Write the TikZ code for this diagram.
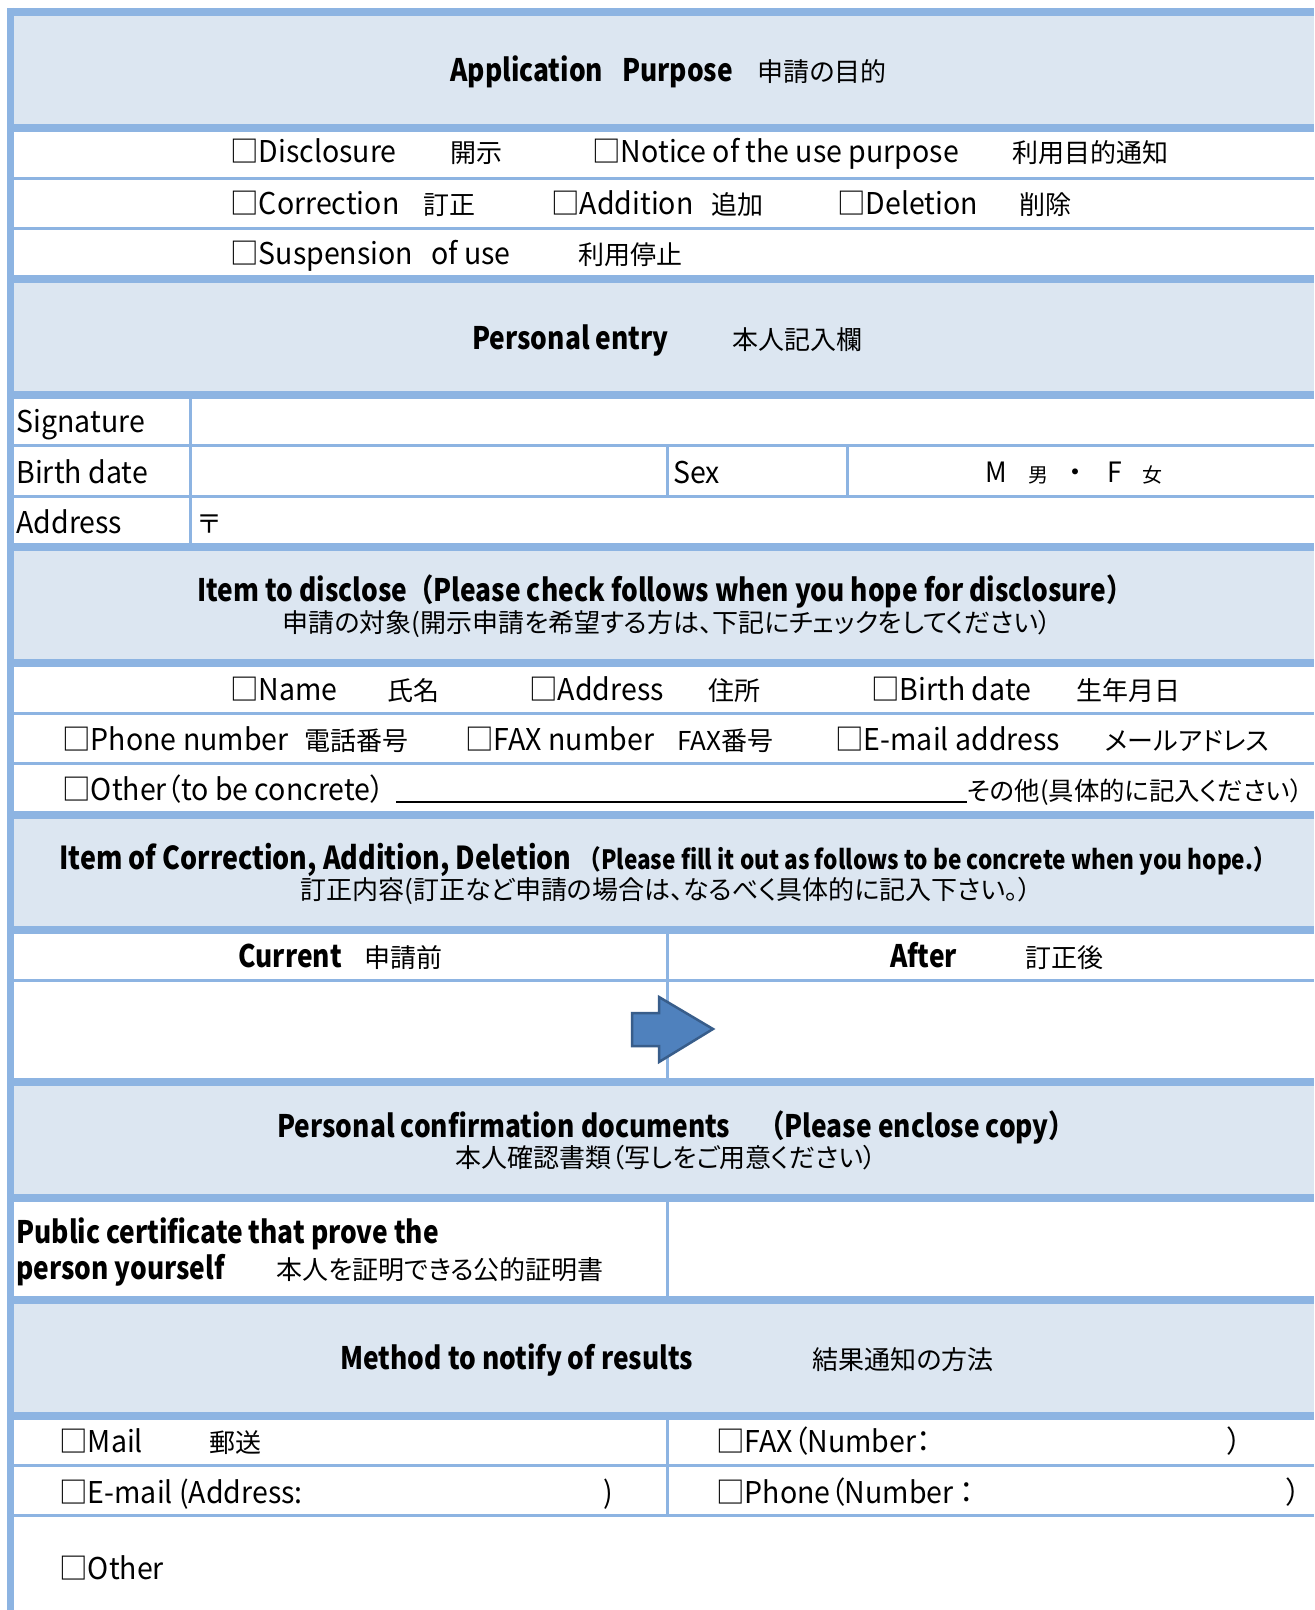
\documentclass[tikz,border=0pt]{standalone}
\usepackage{fontspec}
\setmainfont{Noto Sans CJK JP}[RawFeature=+palt]
\newfontfamily\latinfont{Noto Sans CJK JP}[FakeStretch=0.95, RawFeature=+palt]
\newfontfamily\headfont{Noto Sans CJK JP}[FakeStretch=0.85]
\usepackage{tikz}
\definecolor{bandfill}{RGB}{220,230,241}
\definecolor{formline}{RGB}{141,180,226}
\definecolor{arrowfill}{RGB}{79,129,189}
\definecolor{arrowdraw}{RGB}{56,93,138}
\tikzstyle{band}=[fill=bandfill]
\tikzstyle{bigline}=[draw=formline, line width=4pt]
\tikzstyle{smallline}=[draw=formline, line width=1.5pt]
\tikzstyle{txt}=[anchor=base west, inner sep=0pt, font=\latinfont\fontsize{15}{18}\selectfont]
\tikzstyle{jp}=[txt, font=\fontsize{13}{16}\selectfont]
\tikzstyle{hd}=[txt, font=\headfont\bfseries\fontsize{15.5}{18}\selectfont]

\begin{document}
\begin{tikzpicture}[x=0.5pt,y=-0.5pt]
      \useasboundingbox (0,0) rectangle (1314,1610);
      \fill[white] (0,0) rectangle (1314,1610);

      % shaded heading bands
      \foreach \ya/\yb in {12/128, 279/395, 547/663, 815/930, 1082/1198, 1300/1416}
        \fill[band] (10.5,\ya) rectangle (1314,\yb);

      % cell dividers
      \draw[smallline] (190,395) -- (190,547);
      \draw[smallline] (667,445.5) -- (667,496.5);
      \draw[smallline] (847,445.5) -- (847,496.5);
      \draw[smallline] (667,930) -- (667,1082);
      \draw[smallline] (667,1198) -- (667,1300);
      \draw[smallline] (667,1416) -- (667,1515.5);

      \foreach \y in {178.5, 228.5, 445.5, 496.5, 713, 763, 980, 1465.5, 1515.5}
        \draw[smallline] (10.5,\y) -- (1314,\y);
      \foreach \y in {12, 128, 279, 395, 547, 663, 815, 930, 1082, 1198, 1300, 1416}
        \draw[bigline] (7,\y) -- (1314,\y);
      \draw[draw=formline, line width=3.5pt] (10.5,8) -- (10.5,1610);

      % application purpose
      \node[hd] (a1) at (450,82) {Application};
      \node[hd] (a2) at (622,82) {Purpose};
      \node[jp] (a3) at (757,82) {申請の目的};

      \node[txt] (b1) at (230,163) {□Disclosure};
      \node[jp] (b2) at (450,163) {開示};
      \node[txt] (b3) at (592,163) {□Notice of the use purpose};
      \node[jp] (b4) at (1012,163) {利用目的通知};

      \node[txt] (c1) at (230,215) {□Correction};
      \node[jp] (c2) at (423,215) {訂正};
      \node[txt] (c3) at (551,215) {□Addition};
      \node[jp] (c4) at (711,215) {追加};
      \node[txt] (c5) at (837,215) {□Deletion};
      \node[jp] (c6) at (1019,215) {削除};

      \node[txt] (d1) at (230,265) {□Suspension};
      \node[txt] (d2) at (431,265) {of use};
      \node[jp] (d3) at (578,265) {利用停止};

      % personal entry
      \node[hd] (e1) at (472,350) {Personal entry};
      \node[jp] (e2) at (732,350) {本人記入欄};

      \node[txt] (f1) at (16,432) {Signature};
      \node[txt] (g1) at (16,483) {Birth date};
      \node[txt] (g2) at (673,483) {Sex};
      \node[txt, font=\latinfont\fontsize{14}{16}\selectfont] (g3) at (985,482) {M};
      \node[jp, font=\fontsize{10}{12}\selectfont] (g4) at (1028,482) {男};
      \node[jp, font=\fontsize{14}{16}\selectfont] (g5) at (1068,482) {・};
      \node[txt, font=\latinfont\fontsize{14}{16}\selectfont] (g6) at (1107,482) {F};
      \node[jp, font=\fontsize{10}{12}\selectfont] (g7) at (1142,482) {女};
      \node[txt] (h1) at (16,533) {Address};
      \node[jp] (h2) at (198,533) {〒};

      % item to disclose
      \node[hd, anchor=base] (i1) at (665,601) {Item to disclose（Please check follows when you hope for disclosure）};
      \node[jp, anchor=base] (i2) at (667,632) {申請の対象(開示申請を希望する方は、下記にチェックをしてください）};

      \node[txt] (j1) at (230,700) {□Name};
      \node[jp] (j2) at (387,700) {氏名};
      \node[txt] (j3) at (529,700) {□Address};
      \node[jp] (j4) at (708,700) {住所};
      \node[txt] (j5) at (871,700) {□Birth date};
      \node[jp] (j6) at (1076,700) {生年月日};

      \node[txt] (k1) at (62,750) {□Phone number};
      \node[jp] (k2) at (304,750) {電話番号};
      \node[txt] (k3) at (465,750) {□FAX number};
      \node[jp] (k4) at (677,750) {FAX番号};
      \node[txt] (k5) at (835,750) {□E-mail address};
      \node[jp] (k6) at (1105,750) {メールアドレス};

      \node[txt] (l1) at (62,800) {□Other（to be concrete）};
      \node[jp, font=\fontsize{12.7}{15}\selectfont] (l2) at (967,800) {その他(具体的に記入ください）};
      \draw[line width=1.25pt] (396,802) -- (967,802);

      % correction
      \node[hd, font=\headfont\bfseries\fontsize{15.8}{19}\selectfont] (m1) at (59,869) {Item of Correction, Addition, Deletion};
      \node[hd, font=\headfont\bfseries\fontsize{13.3}{16}\selectfont] (m2) at (578,869) {（Please fill it out as follows to be concrete when you hope.）};
      \node[jp, anchor=base] (m3) at (666,899) {訂正内容(訂正など申請の場合は、なるべく具体的に記入下さい。）};

      \node[hd] (n1) at (238,967) {Current};
      \node[jp] (n2) at (364,967) {申請前};
      \node[hd] (n3) at (890,967) {After};
      \node[jp] (n4) at (1025,967) {訂正後};

      \filldraw[fill=arrowfill, draw=arrowdraw, line width=1.25pt]
        (632,1013) -- (659,1013) -- (659,997) -- (713,1029) -- (659,1062) -- (659,1046) -- (632,1046) -- cycle;

      % confirmation documents
      \node[hd] (o1) at (277,1137) {Personal confirmation documents};
      \node[hd] (o2) at (758,1137) {（Please enclose copy）};
      \node[jp, anchor=base] (o3) at (666,1167) {本人確認書類（写しをご用意ください）};

      \node[hd] (p1) at (16,1243) {Public certificate that prove the};
      \node[hd] (p2) at (16,1279) {person yourself};
      \node[jp] (p3) at (276,1279) {本人を証明できる公的証明書};

      % notification method
      \node[hd] (q1) at (340,1369) {Method to notify of results};
      \node[jp] (q2) at (812,1369) {結果通知の方法};

      \node[txt] (r1) at (59,1452) {□Mail};
      \node[jp] (r2) at (209,1452) {郵送};
      \node[txt] (r3) at (716,1452) {□FAX（Number：};
      \node[txt] (r4) at (1227,1452) {）};
      \node[txt] (s1) at (59,1503) {□E-mail (Address:};
      \node[txt] (s2) at (603,1503) {)};
      \node[txt] (s3) at (716,1503) {□Phone（Number ：};
      \node[txt] (s4) at (1286,1503) {）};
      \node[txt] (t1) at (59,1579) {□Other};

    \end{tikzpicture}
\end{document}
